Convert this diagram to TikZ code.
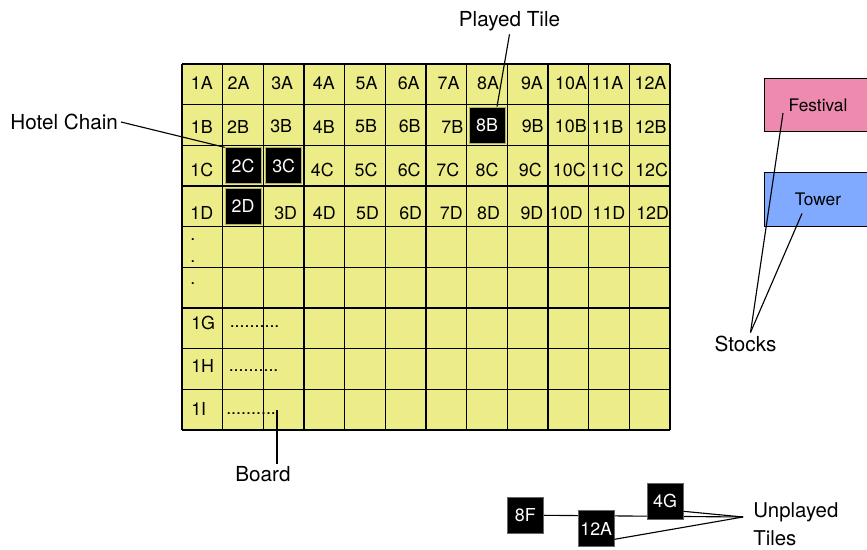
\documentclass[tikz,border=0pt]{standalone}
\usepackage{fontspec}
\setmainfont{TeX Gyre Heros}
\usetikzlibrary{calc, backgrounds}
\definecolor{boardcol}{RGB}{236,236,136}
\definecolor{festcol}{RGB}{238,138,176}
\definecolor{towercol}{RGB}{128,170,255}
\newcommand{\cellfont}{\fontsize{12.7}{15.4}\selectfont}
\newcommand{\calloutfont}{\fontsize{14.7}{17.5}\selectfont}

\begin{document}
\begin{tikzpicture}[
  x=0.025cm, y=-0.025cm,
  cell/.style={font=\cellfont, inner sep=0pt},
  tile/.style={fill=black, draw=black!25!boardcol, line width=0.5pt, text=white,
               font=\cellfont, minimum size=0.9cm, inner sep=0pt},
  stock/.style={draw=black, line width=0.6pt, font=\fontsize{12.3}{15}\selectfont,
                minimum width=2.7cm, minimum height=1.34cm, inner sep=0pt},
  callout/.style={font=\calloutfont, inner sep=2pt},
  gridline/.style={line width=0.9pt, black},
  link/.style={line width=0.8pt}
]
  \useasboundingbox (0,0) rectangle (867,550);
  \def\cw{40.667}

  % the board
  \fill[boardcol] (182,64) rectangle (670,430);
  \foreach \i in {0,...,12}
    \draw[gridline] ({182+\i*\cw},64) -- ({182+\i*\cw},430);
  \foreach \j in {0,...,9}
    \draw[gridline] (182,{64+\j*\cw}) -- (670,{64+\j*\cw});

  % cell labels, rows A to D
  \foreach \r/\n/\dy/\cells in {
    A/1/-1/{1/-0.5,2/-4.5,3/-1.5,4/-0.5,5/1.5,6/3,7/2.3,8/1,9/4.3,10/2.7,11/-1.5,12/0.8},
    B/2/1.5/{1/-0.5,2/-5,3/-2.5,4/-0.5,5/1,6/4,7/6,9/5,10/2.5,11/-1.5,12/1},
    C/3/4/{1/-0.6,4/-2,5/1,6/3.5,7/1.5,8/0,9/2.6,10/1,11/-1.5,12/2},
    D/4/7/{1/-0.5,3/2,4/0,5/2.5,6/5,7/5,8/1.5,9/4.3,10/-2,11/0,12/3}}
    \foreach \c/\dx in \cells
      \node[cell] (l\c\r) at ({182+(\c-0.5)*\cw+\dx},{64+(\n-0.5)*\cw+\dy}) {\c\r};

  \foreach \y [count=\k] in {240.5,263,284}
    \node[cell, anchor=base west] (dot\k) at (190,\y) {.};

  \node[cell, anchor=west] (l1G) at (191,322.5) {1G};
  \node[cell, anchor=west] (l1H) at (191,366) {1H};
  \node[cell, anchor=west] (l1I) at (191,409) {1I};
  \node[cell, anchor=base west] (dotsG) at (229.5,327.7) {..........};
  \node[cell, anchor=base west] (dotsH) at (228.5,371.7) {..........};
  \node[cell, anchor=base west] (dotsI) at (226,414.3) {..........};

  % tiles on the board
  \node[tile] (t2C) at ({182+1.5*\cw},{64+2.5*\cw}) {2C};
  \node[tile] (t3C) at ({182+2.5*\cw},{64+2.5*\cw}) {3C};
  \node[tile] (t2D) at ({182+1.5*\cw},{64+3.5*\cw}) {2D};
  \node[tile] (t8B) at ({182+7.5*\cw},{64+1.5*\cw}) {8B};

  % unplayed tiles
  \node[tile, draw=black!60] (t8F) at (525.3,515.3) {8F};
  \node[tile, draw=black!60] (t12A) at (596.2,528.8) {12A};
  \node[tile, draw=black!60] (t4G) at (665,501.3) {4G};

  % stocks
  \node[stock, fill=festcol] (festival) at (818,105) {Festival};
  \node[stock, fill=towercol] (tower) at (818,199.5) {Tower};

  % callouts
  \node[callout, anchor=east] (hotel) at (121,122) {Hotel Chain};
  \node[callout, anchor=base] (played) at (509.5,26.7) {Played Tile};
  \node[callout, anchor=base] (board) at (263,481.7) {Board};
  \node[callout, anchor=base] (stocks) at (745.5,351) {Stocks};
  \node[callout, anchor=west, align=left, inner sep=0pt,
        font=\fontsize{14.5}{20}\selectfont] (unplayed) at (753,524.5) {Unplayed\\Tiles};

  \draw[link] (hotel.east) -- (t2C.north west);
  \draw[link] (played.south) -- ($(t8B.north)+(10,0)$);
  \coordinate (boardtip) at (277,410);
  \draw[link] (boardtip) -- (boardtip |- board.north);
  \coordinate (stocktip) at ($(stocks.north)+(5,0)$);
  \draw[link] (stocktip) -- ($(festival.center)+(-35,8)$);
  \draw[link] (stocktip) -- ($(tower.center)+(-16,14)$);

  \coordinate (uptip) at (743,517);
  \begin{scope}[on background layer]
    \draw[link] (uptip) -- (t8F.east);
  \end{scope}
  \draw[link] (uptip) -- ($(t4G.east)+(0,10)$);
  \draw[link] (uptip) -- ($(t12A.east)+(0,10.5)$);
\end{tikzpicture}
\end{document}
